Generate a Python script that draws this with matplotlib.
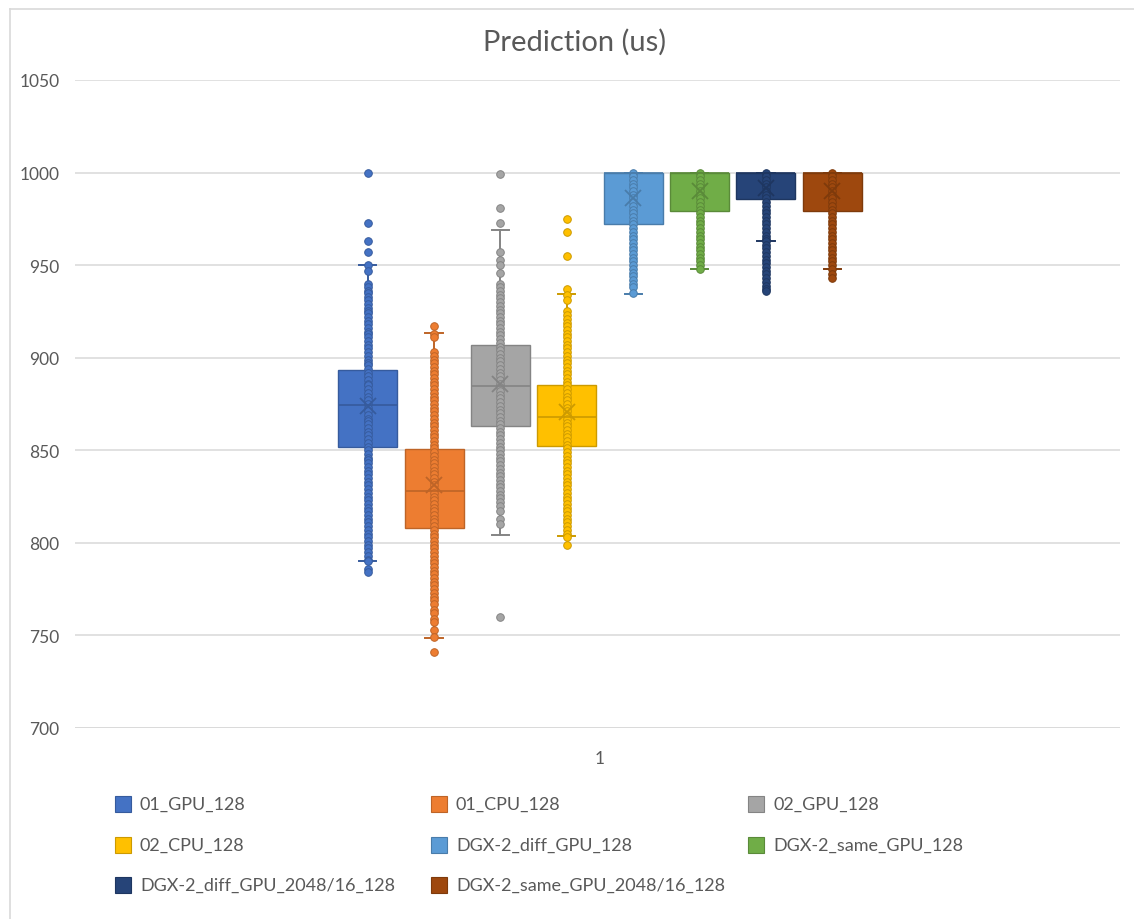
import matplotlib
matplotlib.use("Agg")
import matplotlib.pyplot as plt
from matplotlib.patches import Rectangle
from matplotlib.lines import Line2D
from matplotlib import colors as mcolors
from matplotlib import font_manager

# ---------------------------------------------------------------- data
series_names = [
    "01_GPU_128", "01_CPU_128", "02_GPU_128", "02_CPU_128",
    "DGX-2_diff_GPU_128", "DGX-2_same_GPU_128",
    "DGX-2_diff_GPU_2048/16_128", "DGX-2_same_GPU_2048/16_128",
]
series_colors = ["#4472C4", "#ED7D31", "#A5A5A5", "#FFC000",
                 "#5B9BD5", "#70AD47", "#264478", "#9E480E"]

q1 = [852, 808, 863, 852.5, 972, 979, 985.5, 979]
median = [874.5, 828, 884.5, 868, 1000, 1000, 1000, 1000]
q3 = [893.5, 850.5, 907, 885, 1000, 1000, 1000, 1000]
whisker_low = [790, 748.5, 804, 803.5, 934.5, 948, 963, 948]
whisker_high = [950, 913.5, 969, 934.5, 1000, 1000, 1000, 1000]
mean = [874, 831, 886, 870.5, 986.5, 990, 991.5, 990]

points_01_gpu = [1000, 973, 963, 957, 950, 947, 940, 938, 936, 935, 933, 931,
                 929, 927, 925, 924, 922, 920, 918, 916, 914, 913, 911, 909,
                 907, 905, 903, 901, 899, 897, 896, 894, 892, 890, 888, 886,
                 885, 883, 881, 879, 877, 875, 873, 871, 869, 867, 866, 864,
                 862, 860, 858, 856, 854, 852, 850, 848, 846, 845, 843, 841,
                 839, 837, 835, 833, 831, 829, 827, 825, 823, 821, 819, 817,
                 815, 813, 811, 809, 807, 805, 803, 801, 799, 797, 795, 793,
                 791, 790, 786, 784]
points_01_cpu = [917, 913, 911, 903, 901, 899, 897, 895, 893, 891, 889, 887,
                 885, 883, 881, 879, 877, 875, 873, 871, 869, 867, 865, 863,
                 861, 859, 857, 855, 853, 851, 849, 847, 845, 843, 841, 839,
                 837, 835, 833, 831, 829, 827, 825, 823, 821, 819, 817, 815,
                 813, 811, 809, 807, 805, 803, 801, 799, 797, 795, 793, 791,
                 789, 787, 785, 783, 781, 779, 777, 775, 773, 771, 769, 767,
                 764, 762, 759, 757, 753, 749, 741]
points_02_gpu = [999, 981, 973, 957, 953, 950, 946, 940, 938, 936, 934, 932,
                 930, 928, 926, 924, 922, 920, 918, 916, 914, 912, 910, 908,
                 906, 904, 902, 900, 898, 896, 894, 892, 890, 888, 886, 884,
                 882, 880, 878, 876, 874, 872, 870, 868, 866, 864, 862, 860,
                 858, 856, 854, 852, 850, 848, 846, 844, 842, 840, 838, 836,
                 834, 832, 830, 828, 826, 824, 822, 820, 817, 813, 810, 760]
points_02_cpu = [975, 968, 955, 937, 934, 931, 925, 923, 921, 919, 917, 915,
                 913, 911, 909, 907, 905, 903, 901, 899, 897, 895, 893, 891,
                 889, 887, 885, 883, 881, 879, 877, 875, 873, 871, 869, 867,
                 865, 863, 861, 859, 857, 855, 853, 851, 849, 847, 845, 843,
                 841, 839, 837, 835, 833, 831, 829, 827, 825, 823, 821, 819,
                 817, 815, 813, 811, 809, 807, 805, 803, 799]
points_dgx_diff = [1000, 998, 996, 994, 992, 990, 988, 986, 984, 982, 980,
                   978, 976, 974, 972, 970, 968, 966, 964, 962, 960, 958, 956,
                   954, 952, 950, 948, 946, 944, 942, 940, 938, 935]
points_dgx_same = [1000, 998, 996, 994, 992, 990, 988, 986, 984, 982, 980,
                   978, 976, 974, 972, 970, 968, 966, 964, 962, 960, 958, 956,
                   954, 952, 950, 948]
points_dgx_diff_2048 = [1000, 998, 996, 994, 992, 990, 988, 986, 984, 982,
                        980, 978, 976, 974, 972, 970, 968, 966, 964, 963, 961,
                        959, 957, 955, 953, 951, 949, 947, 945, 943, 941, 939,
                        937, 936]
points_dgx_same_2048 = [1000, 998, 996, 994, 992, 990, 988, 986, 984, 982,
                        980, 978, 976, 974, 972, 970, 968, 966, 964, 962, 960,
                        958, 956, 954, 952, 950, 948, 945, 943]
series_points = [points_01_gpu, points_01_cpu, points_02_gpu, points_02_cpu,
                 points_dgx_diff, points_dgx_same, points_dgx_diff_2048,
                 points_dgx_same_2048]

category_label = "1"
y_ticks = [700, 750, 800, 850, 900, 950, 1000, 1050]
title = "Prediction (us)"

# ---------------------------------------------------------------- style
installed = {f.name for f in font_manager.fontManager.ttflist}
family = [f for f in ["Lato", "Open Sans", "DejaVu Sans"] if f in installed]
plt.rcParams["font.family"] = family
text_color = "#595959"
grid_color = "#D9D9D9"


def darker(c, k=0.8):
    r, g, b = mcolors.to_rgb(c)
    return (r * k, g * k, b * k)


W, H = 1134, 920
fig = plt.figure(figsize=(W / 100, H / 100), dpi=100)

# chart frame
fig.add_artist(Line2D([10 / W, 1.0], [1 - 10 / H, 1 - 10 / H],
                      color=grid_color, lw=1.2, transform=fig.transFigure))
fig.add_artist(Line2D([10 / W, 10 / W], [1 - 10 / H, 0.0],
                      color=grid_color, lw=1.2, transform=fig.transFigure))

ax = fig.add_axes([75 / W, 1 - 729 / H, 1045 / W, 648 / H])

n = len(series_names)
spacing = 0.0635
positions = [1 + (i - (n - 1) / 2) * spacing for i in range(n)]
box_width = 0.0565

stats = []
for i in range(n):
    stats.append(dict(label=series_names[i], q1=q1[i], med=median[i],
                      q3=q3[i], whislo=whisker_low[i], whishi=whisker_high[i],
                      mean=mean[i], fliers=[]))

art = ax.bxp(stats, positions=positions, widths=box_width, patch_artist=True,
             showmeans=True, showfliers=False, capwidths=0.0165,
             manage_ticks=False)

for i, c in enumerate(series_colors):
    dc = darker(c)
    box = art["boxes"][i]
    box.set_facecolor(c)
    box.set_edgecolor(dc)
    box.set_linewidth(1.0)
    box.set_zorder(2)
    art["medians"][i].set_color(dc)
    art["medians"][i].set_linewidth(1.2)
    art["medians"][i].set_zorder(4)
    for ln in art["whiskers"][2 * i:2 * i + 2] + art["caps"][2 * i:2 * i + 2]:
        ln.set_color(dc)
        ln.set_linewidth(1.4)
        ln.set_zorder(2)
    m = art["means"][i]
    m.set_marker("x")
    m.set_markersize(12)
    m.set_markeredgecolor(dc)
    m.set_markerfacecolor(dc)
    m.set_markeredgewidth(1.3)
    m.set_zorder(5)
    pts = series_points[i]
    ax.scatter([positions[i]] * len(pts), pts, s=30, facecolor=c,
               edgecolor=dc, linewidth=0.7, zorder=3)

ax.set_xlim(0.4976, 1.4976)
ax.set_ylim(700, 1050)
ax.set_yticks(y_ticks)
ax.set_xticks([1])
ax.set_xticklabels([category_label])
ax.yaxis.grid(True, color=grid_color, lw=1.1)
ax.set_axisbelow(True)
for s in ax.spines.values():
    s.set_visible(False)
ax.tick_params(axis="both", length=0, labelsize=12.5, labelcolor=text_color)
ax.tick_params(axis="y", pad=11)
ax.tick_params(axis="x", pad=16)
ax.axhline(700, color=grid_color, lw=1.1, zorder=1)

fig.text(575 / W, 1 - 42 / H, title, ha="center", va="center",
         fontsize=21, color=text_color)

# legend, three entries per row
col_x = [115, 431, 748]
row_y = [805, 846, 886]
for i, (name, c) in enumerate(zip(series_names, series_colors)):
    x0 = col_x[i % 3]
    yc = row_y[i // 3]
    fig.add_artist(Rectangle((x0 / W, 1 - (yc + 8) / H), 16 / W, 16 / H,
                             facecolor=c, edgecolor=darker(c), lw=0.8,
                             transform=fig.transFigure))
    fig.text((x0 + 25) / W, 1 - yc / H, name, ha="left", va="center",
             fontsize=13, color=text_color)

fig.savefig("out.png", dpi=100, facecolor="white")
